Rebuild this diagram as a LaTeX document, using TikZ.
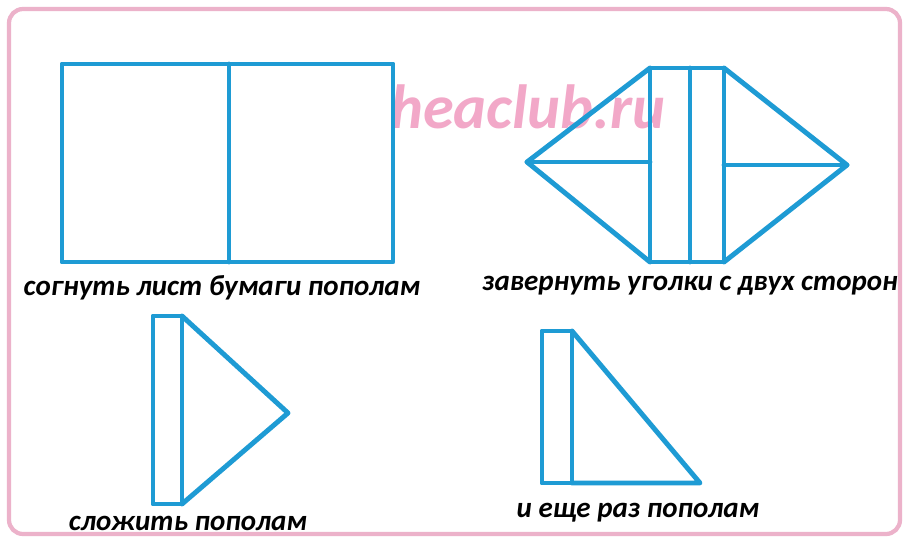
\documentclass[tikz,border=0pt]{standalone}
\usepackage{fontspec}
\setmainfont{Carlito}
\definecolor{lineblue}{RGB}{30,155,212}
\definecolor{framepink}{RGB}{236,178,202}
\definecolor{markpink}{RGB}{242,168,200}
\begin{document}
\begin{tikzpicture}[x=0.02cm,y=-0.02cm,
  fig/.style={draw=lineblue,line width=2.8pt,line join=round,line cap=round},
  captext/.style={font=\fontsize{16.5pt}{18pt}\selectfont\bfseries\itshape,anchor=base,inner sep=0pt},
  wmark/.style={font=\fontsize{35.5pt}{38pt}\selectfont\bfseries\itshape,text=markpink,anchor=base west,inner sep=0pt}]
\useasboundingbox (0,0) rectangle (909,545);
\fill[white] (0,0) rectangle (909,545);
\draw[framepink,line width=2.4pt,rounded corners=8pt] (9,9) rectangle (900,534);
% watermark (under the drawing)
\node[wmark] (wm) at (390,128) {heaclub.ru};
% figure 1
\draw[fig] (62,64) rectangle (393,262);
\draw[fig] (229,64) -- (229,262);
% figure 2
\coordinate (L) at (527,162);
\coordinate (R) at (847,165);
\draw[fig] (650,68) rectangle (724,262);
\draw[fig] (690,68) -- (690,262);
\draw[fig] (650,68) -- (L) -- (650,262);
\draw[fig] (L) -- (650,162);
\draw[fig] (724,68) -- (R) -- (724,262);
\draw[fig] (724,165) -- (R);
% figure 3
\draw[fig] (153,316) rectangle (182,504);
\draw[fig] (182,316) -- (288,413) -- (182,504);
% figure 4
\draw[fig] (542,331) rectangle (572,483);
\draw[fig] (572,331) -- (700,483) -- (572,483);
% captions
\node[captext] (c1) at (222,295) {согнуть лист бумаги пополам};
\node[captext] (c2) at (690,290) {завернуть уголки с двух сторон};
\node[captext] (c3) at (188,530) {сложить пополам};
\node[captext] (c4) at (638,517) {и еще раз пополам};
\end{tikzpicture}
\end{document}
